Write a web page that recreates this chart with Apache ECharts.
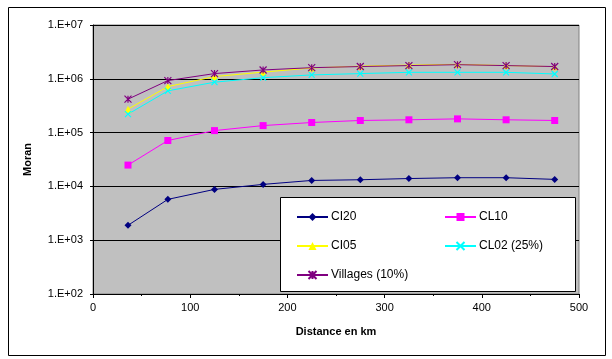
<!DOCTYPE html>
<html><head><meta charset="utf-8">
<script src="https://cdn.jsdelivr.net/npm/echarts@6/dist/echarts.min.js"></script>
<style>html,body{margin:0;padding:0;background:#fff;}#c{width:612px;height:359px;}</style>
</head><body><div id="c"></div>
<script>
const distances = [36, 77, 125, 175, 225, 275, 325, 375, 425, 475];
const ci20 = [1890, 5740, 8800, 10900, 12900, 13300, 14000, 14500, 14500, 13500];
const cl10 = [24900, 71300, 109000, 135000, 154000, 168000, 173000, 180000, 173000, 168000];
const ci05 = [273000, 717000, 1100000, 1330000, 1590000, 1720000, 1800000, 1860000, 1760000, 1680000];
const cl02 = [220000, 597000, 865000, 1050000, 1180000, 1250000, 1320000, 1320000, 1320000, 1230000];
const villages = [418000, 927000, 1250000, 1460000, 1610000, 1690000, 1760000, 1830000, 1760000, 1690000];
const xTicks = [0, 100, 200, 300, 400, 500];
const yTickExp = [2, 3, 4, 5, 6, 7];

const F = 'Liberation Sans, Arial, sans-serif';
const xMark = 'path://M0,0 L10,10 M10,0 L0,10';
const starMark = 'path://M0,0 L10,10 M10,0 L0,10 M5,0 L5,10';
function pairs(v){ return distances.map((d,i)=>[d, v[i]]); }
function ser(name, data, color, symbol, size, stroke){
  return {
    name, type:'line', data: pairs(data), symbol, symbolSize: size, z:2,
    lineStyle:{color, width:1}, itemStyle: stroke ? {color:'rgba(0,0,0,0)', borderColor:color, borderWidth:1.2} : {color, borderColor:color, borderWidth:0},
    emphasis:{disabled:true}, animation:false
  };
}
const legText = {fontFamily:F, fontSize:12, color:'#000', padding:[0,0,0,-2]};
const chart = echarts.init(document.getElementById('c'), null, {renderer:'canvas'});
chart.setOption({
  animation:false,
  grid:{left:93, top:25, width:486, height:269, show:true, backgroundColor:'#C0C0C0', borderColor:'#808080', borderWidth:1},
  xAxis:{type:'value', min:xTicks[0], max:xTicks[xTicks.length-1], interval:100,
    name:'Distance en km', nameLocation:'middle', nameGap:32,
    nameTextStyle:{fontFamily:F, fontSize:11, fontWeight:'bold', color:'#000'},
    axisLine:{lineStyle:{color:'#000', width:1}},
    axisTick:{show:true, length:4, lineStyle:{color:'#000'}},
    minorTick:{show:true, splitNumber:2, length:2, lineStyle:{color:'#000'}},
    splitLine:{show:false},
    axisLabel:{fontFamily:F, fontSize:11, color:'#000', margin:8}},
  yAxis:{type:'log', logBase:10, min:Math.pow(10,yTickExp[0]), max:Math.pow(10,yTickExp[yTickExp.length-1]),
    name:'Moran', nameLocation:'middle', nameGap:60, nameRotate:90,
    nameTextStyle:{fontFamily:F, fontSize:11, fontWeight:'bold', color:'#000'},
    axisLine:{show:true, lineStyle:{color:'#000', width:1}},
    axisTick:{show:true, length:3, lineStyle:{color:'#000'}},
    splitLine:{show:true, lineStyle:{color:'#000', width:1}},
    axisLabel:{fontFamily:F, fontSize:11, color:'#000', margin:10,
      formatter:v=>'1.E+'+String(Math.round(Math.log10(v))).padStart(2,'0')}},
  legend:[
    {data:['CI20','CI05','Villages (10%)'], orient:'vertical', left:291, top:206, itemGap:17, itemWidth:31, itemHeight:10, z:20,
     textStyle:legText, selectedMode:false},
    {data:['CL10','CL02 (25%)'], orient:'vertical', left:439, top:206, itemGap:17, itemWidth:31, itemHeight:10, z:20,
     textStyle:legText, selectedMode:false}
  ],
  graphic:[
    {type:'rect', left:6, top:5, shape:{x:0,y:0,width:597,height:348}, style:{fill:'none', stroke:'#000', lineWidth:1}, z:-10, silent:true},
    {type:'rect', shape:{x:280.5,y:197.5,width:295,height:94}, style:{fill:'#fff', stroke:'#000', lineWidth:1}, z:10, silent:true}
  ],
  series:[
    ser('CI20', ci20, '#000080', 'diamond', 7, false),
    ser('CL10', cl10, '#FF00FF', 'rect', 7, false),
    ser('CI05', ci05, '#FFFF00', 'triangle', 7, false),
    ser('CL02 (25%)', cl02, '#00FFFF', xMark, 6, true),
    ser('Villages (10%)', villages, '#800080', starMark, 7, true)
  ]
});
</script></body></html>
